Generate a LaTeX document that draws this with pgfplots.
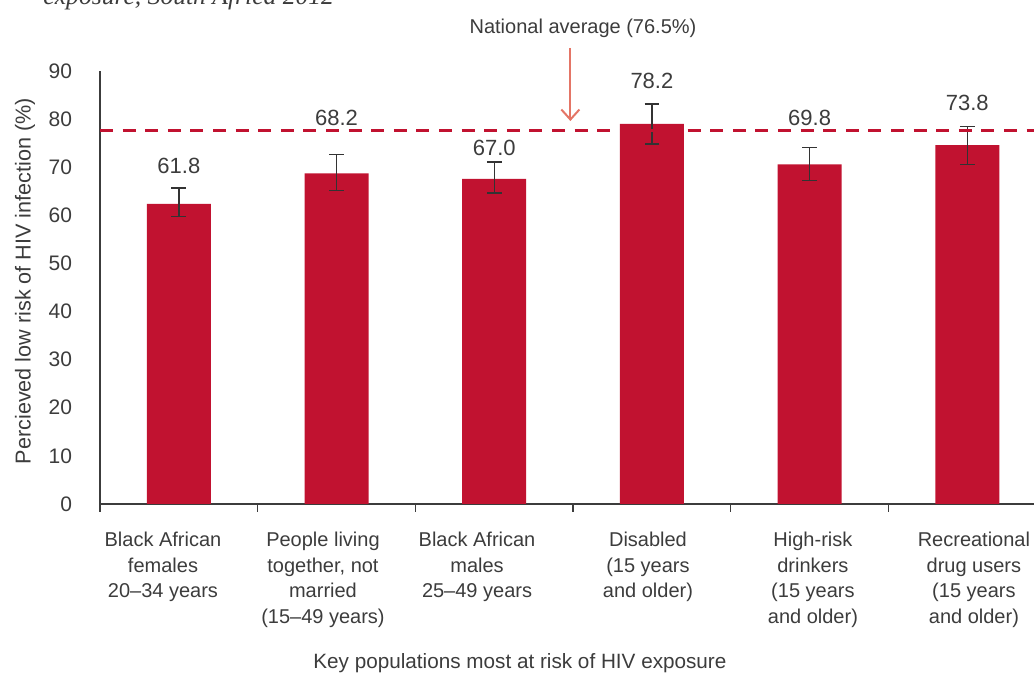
\documentclass[border=0pt]{standalone}
\usepackage{pgfplots}
\pgfplotsset{compat=1.18}
\usepackage{fontspec}
\setmainfont{Liberation Sans}
\newfontfamily\titlefont{Liberation Serif}
\usetikzlibrary{arrows.meta}
\definecolor{barred}{HTML}{C11230}
\definecolor{txt}{HTML}{3C3C3C}
\definecolor{errc}{HTML}{333333}
\definecolor{arr}{HTML}{E47566}
\begin{document}
\begin{tikzpicture}
\begin{axis}[name=ax, scale only axis, width=467pt, height=216.5pt,
  xmin=-0.5, xmax=5.423, ymin=0, ymax=90,
  axis lines*=left, clip=false,
  axis line style={draw=txt, line width=0.6pt},
  /pgf/number format/assume math mode=true,
  ytick={0,10,...,90},
  ytick style={draw=none},
  yticklabel style={font=\fontsize{10.5}{12}\selectfont, text=txt, xshift=-10.5pt},
  xtick={-0.1005,0.914,1.891,2.975,4.021,5.042},
  major tick length=0pt,
  xtick style={draw=txt, line width=0.6pt},
  xticklabels={{Black African\\females\\20--34 years},
               {People living\\together, not\\married\\(15--49 years)},
               {Black African\\males\\25--49 years},
               {Disabled\\(15 years\\and older)},
               {High-risk\\drinkers\\(15 years\\and older)},
               {Recreational\\drug users\\(15 years\\and older)}},
  xticklabel style={align=center, font=\fontsize{10}{12.8}\selectfont, text=txt, yshift=-10.5pt},
  extra x ticks={-0.5,0.5,1.5,2.5,3.5,4.5},
  extra x tick labels={},
  extra x tick style={major tick length=4pt, tick align=outside},
  ylabel={Percieved low risk of HIV infection (\%)},
  ylabel style={at={(axis description cs:-0.0803,0.515)}, anchor=center, font=\fontsize{10.8}{12}\selectfont, text=txt},
]
\addplot[ybar, bar width=32pt, fill=barred, draw=none,
  error bars/.cd, y dir=both, y explicit,
  error bar style={draw=errc, line width=0.7pt},
  error mark options={rotate=90, mark size=3.7pt, line width=0.7pt, draw=errc}]
  coordinates {
  (0,62.4) += (0,3.3) -= (0,2.7)
  (1,68.7) += (0,4.0) -= (0,3.6)
  (2,67.6) += (0,3.5) -= (0,3.0)
  (3,79.0) += (0,4.1) -= (0,4.2)
  (4,70.6) += (0,3.5) -= (0,3.4)
  (5,74.6) += (0,3.9) -= (0,4.0)
  };
\addplot[barred, line width=1.5pt, dash pattern=on 6.5pt off 4.8pt] coordinates {(-0.5,77.7) (5.423,77.7)};
\begin{scope}[every node/.style={text=txt, font=\fontsize{11}{13}\selectfont}]
\node at (axis cs:0,70.3) {61.8};
\node at (axis cs:1,80.2) {68.2};
\node at (axis cs:2,74.0) {67.0};
\node at (axis cs:3,87.9) {78.2};
\node at (axis cs:4,80.2) {69.8};
\node at (axis cs:5,83.4) {73.8};
\end{scope}
\draw[arr, line width=1pt, -{Straight Barb[length=5pt,width=9pt]}] (axis cs:2.483,94.8) -- (axis cs:2.483,79.6);
\node[text=txt, font=\fontsize{10}{12}\selectfont] at (axis cs:2.563,98.9) {National average (76.5\%)};
\node[text=txt, font=\fontsize{10.35}{12}\selectfont] at (axis cs:2.163,-33.05) {Key populations most at risk of HIV exposure};
\node[anchor=base west, inner sep=0pt, text=txt, font=\titlefont\itshape\fontsize{12.8}{14}\selectfont] at (axis cs:-0.861,103.9) {exposure, South Africa 2012};
\end{axis}
\pgfresetboundingbox
\path[use as bounding box] ([xshift=-50pt,yshift=-87pt]ax.south west) rectangle ([yshift=35.5pt]ax.north east);
\end{tikzpicture}
\end{document}
